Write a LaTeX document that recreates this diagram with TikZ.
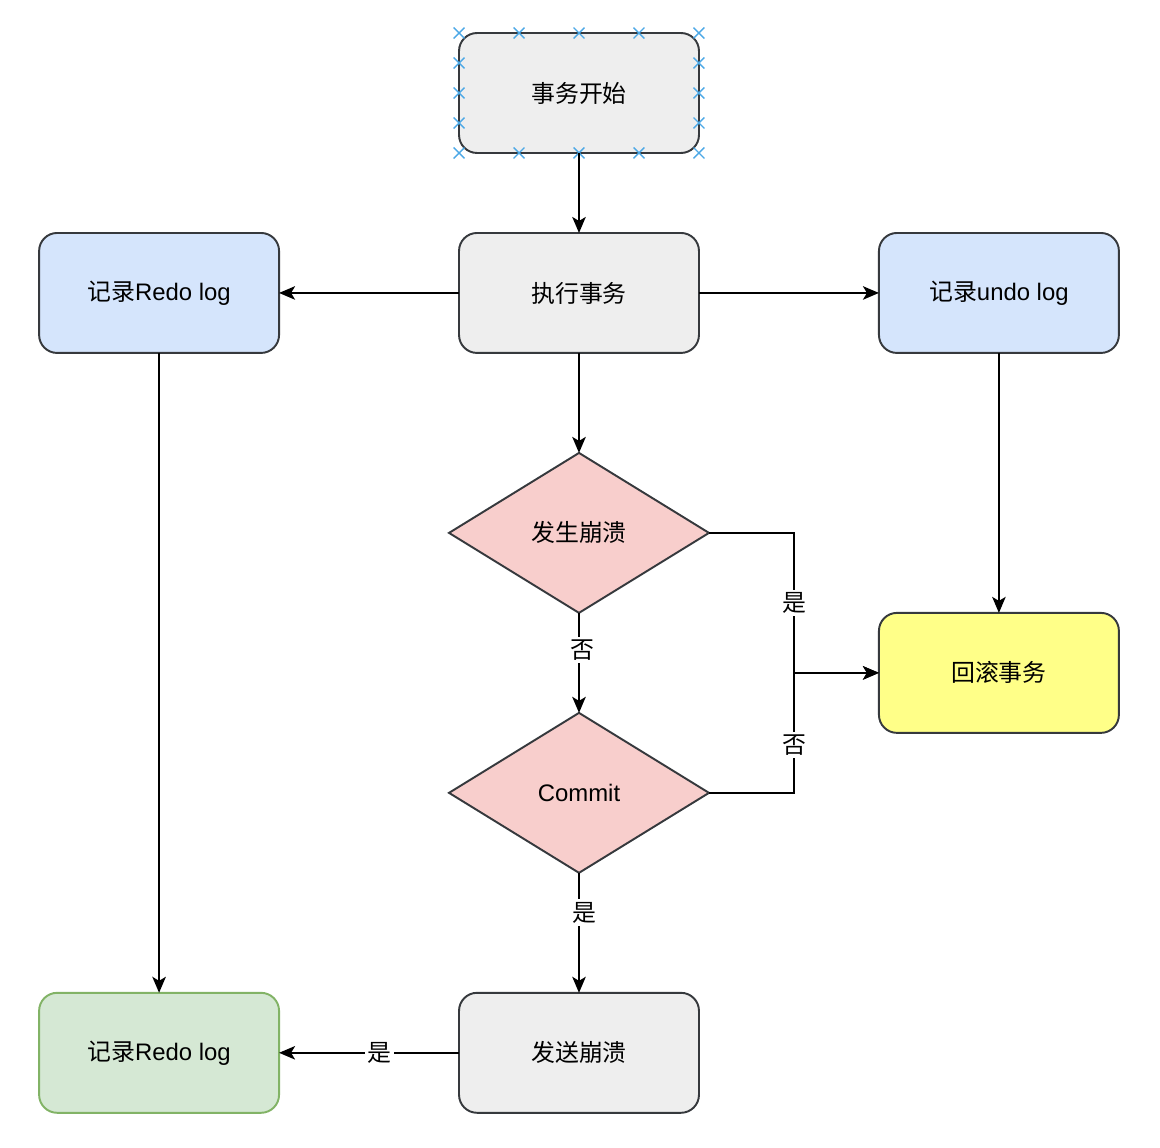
\documentclass[tikz,border=0pt]{standalone}
\usepackage{fontspec}
\setmainfont{Liberation Sans}
\newfontfamily\cjk{Noto Sans CJK SC}
\usepackage{tikz}
\usetikzlibrary{
  shapes.geometric, shapes.misc,
  arrows.meta,
  positioning, calc
}
\definecolor{edgegray}{HTML}{36393D}
\definecolor{boxgray}{HTML}{EEEEEE}
\definecolor{boxblue}{HTML}{D5E5FC}
\definecolor{boxpink}{HTML}{F8CECC}
\definecolor{boxyellow}{HTML}{FFFF88}
\definecolor{boxgreen}{HTML}{D5E8D4}
\definecolor{edgegreen}{HTML}{82B366}
\definecolor{handleblue}{HTML}{4CA8E6}
\tikzset{
  stepblock/.style={
    draw=edgegray, fill=boxgray, line width=1.1pt,
    rectangle, rounded corners=0.36cm, outer sep=0pt,
    minimum width=4.8cm, minimum height=2.4cm,
    align=center, font=\fontsize{13.6}{16}\selectfont
  },
  logblock/.style={
    stepblock, fill=boxblue
  },
  checkblock/.style={
    draw=edgegray, fill=boxpink, line width=1.1pt,
    diamond, aspect=1.625, inner sep=0pt, outer sep=0pt,
    minimum width=5.2cm, minimum height=3.2cm,
    align=center, font=\fontsize{13.6}{16}\selectfont
  },
  flowarrow/.style={
    -{Stealth[length=0.32cm, width=0.27cm, inset=0.08cm]},
    line width=1.1pt, draw=black
  },
  flowlabel/.style={
    fill=white, inner sep=1.5pt, font=\fontsize{13.6}{16}\selectfont\cjk
  },
  handle/.style={
    cross out, draw=handleblue, line width=0.8pt,
    minimum size=0.19cm, inner sep=0pt
  }
}
\begin{document}
\begin{tikzpicture}[x=0.02cm, y=-0.02cm]
    \useasboundingbox (0,0) rectangle (1160,1148);
    % main column
    \node[stepblock] (start) at (579,93) {\cjk 事务开始};
    \node[stepblock, below=1.6cm of start] (exec) {\cjk 执行事务};
    \node[logblock, left=3.6cm of exec] (redo) {{\cjk 记录}Redo log};
    \node[logblock, right=3.6cm of exec] (undo) {{\cjk 记录}undo log};
    \node[checkblock, below=2cm of exec] (crash) {\cjk 发生崩溃};
    \node[checkblock, below=2cm of crash] (commit) {Commit};
    \node[stepblock, fill=boxyellow, below=5.2cm of undo] (rollback) {\cjk 回滚事务};
    \node[stepblock, below=2.4cm of commit] (send) {\cjk 发送崩溃};
    \node[stepblock, fill=boxgreen, draw=edgegreen, left=3.6cm of send] (redodone) {{\cjk 记录}Redo log};
    \coordinate[left=1.7cm of rollback.west] (join);

    % selection handles
    \foreach \i in {0,...,4} {
      \node[handle] at ($(start.north west)!\i/4!(start.north east)$) {};
      \node[handle] at ($(start.south west)!\i/4!(start.south east)$) {};
    }
    \foreach \i in {1,2,3} {
      \node[handle] at ($(start.north west)!\i/4!(start.south west)$) {};
      \node[handle] at ($(start.north east)!\i/4!(start.south east)$) {};
    }

    \draw[flowarrow] (start) -- (exec);
    \draw[flowarrow] (exec) -- (redo);
    \draw[flowarrow] (exec) -- (undo);
    \draw[flowarrow] (exec) -- (crash);
    \draw[flowarrow] (crash) -- (commit) node[flowlabel, pos=0.37, xshift=2pt] {否};
    \draw[flowarrow] (crash.east) -| node[flowlabel, pos=0.75] {是} (join) -- (rollback.west);
    \draw[flowarrow] (commit.east) -| node[flowlabel, pos=0.7] {否} (join) -- (rollback.west);
    \draw[flowarrow] (commit) -- (send) node[flowlabel, pos=0.33, xshift=3pt] {是};
    \draw[flowarrow] (send) -- (redodone) node[flowlabel, pos=0.44] {是};
    \draw[flowarrow] (redo) -- (redodone);
    \draw[flowarrow] (undo) -- (rollback);
\end{tikzpicture}
\end{document}
